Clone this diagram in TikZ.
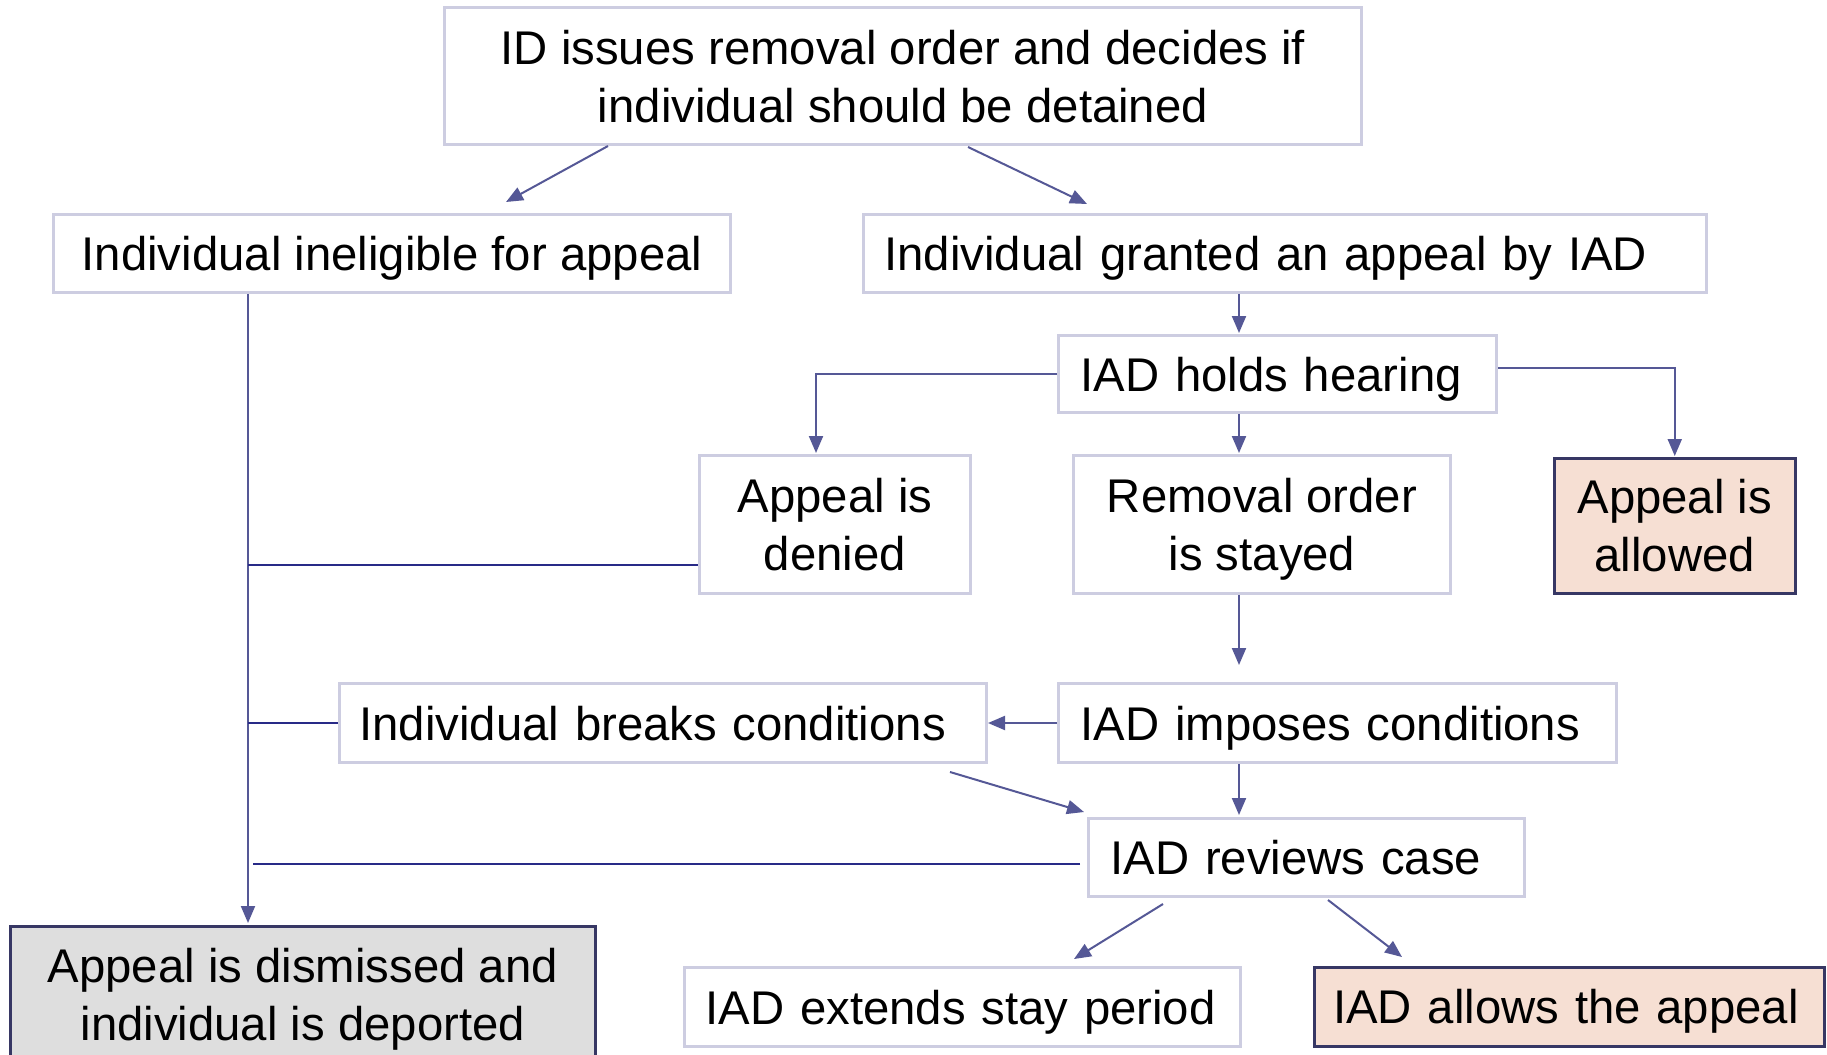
\documentclass[tikz,border=0pt]{standalone}
\usepackage{fontspec}
\setmainfont{Liberation Sans}
\usetikzlibrary{arrows.meta,calc}
\definecolor{boxline}{RGB}{205,205,225}
\definecolor{navy}{RGB}{55,55,100}
\definecolor{arrowc}{RGB}{85,88,150}
\definecolor{linec}{RGB}{40,42,135}
\definecolor{peach}{RGB}{246,223,211}
\definecolor{grayfill}{RGB}{222,222,222}
\newcommand\bigfont{\fontsize{47.3}{58}\selectfont}
\newcommand\mystrut{\rule[-9pt]{0pt}{52pt}}
\begin{document}
\begin{tikzpicture}[x=1pt,y=-1pt,
  box/.style={draw=boxline,line width=3pt,fill=white,anchor=north west,inner sep=0pt,font=\bigfont},
  cbox/.style={box,draw=navy,line width=2.5pt},
  one/.style={text height=43pt,text depth=9pt},
  arr/.style={draw=arrowc,line width=2pt,-{Triangle[length=17pt,width=14pt]}},
  ln/.style={draw=linec,line width=2pt}]
\useasboundingbox[fill=white] (0,0) rectangle (1827,1054);

\node[box,minimum width=917,minimum height=137,align=center] (top) at (443,6) {\mystrut ID issues removal order and decides if\\individual should be detained\mystrut};
\node[box,one,minimum width=677,minimum height=78] (inel) at (52,213) {Individual ineligible for appeal};
\node[box,one,text width=801,inner xsep=21,minimum height=78,align=left] (grant) at (862,213) {\mbox{Individual granted an appeal by IAD}};
\node[box,one,text width=394,inner xsep=22,minimum height=77,align=left] (hear) at (1057,334) {\mbox{IAD holds hearing}};
\node[box,minimum width=271,minimum height=138,align=center] (deny) at (698,454) {\mystrut Appeal is\\denied\mystrut};
\node[box,minimum width=377,minimum height=138,align=center] (stay) at (1072,454) {\mystrut Removal order\\is stayed\mystrut};
\node[cbox,fill=peach,minimum width=241,minimum height=135,align=center] (allow) at (1553,457) {\mystrut Appeal is\\allowed\mystrut};
\node[box,one,text width=607,inner xsep=20,minimum height=79,align=left] (brk) at (338,682) {\mbox{Individual breaks conditions}};
\node[box,one,text width=514,inner xsep=22,minimum height=79,align=left] (impose) at (1057,682) {\mbox{IAD imposes conditions}};
\node[box,one,text width=392,inner xsep=22,minimum height=78,align=left] (review) at (1087,817) {\mbox{IAD reviews case}};
\node[cbox,fill=grayfill,minimum width=585,minimum height=138,align=center] (dism) at (9,925) {\mystrut Appeal is dismissed and\\individual is deported\mystrut};
\node[box,one,text width=514,inner xsep=21,minimum height=79,align=left] (extend) at (683,966) {\mbox{IAD extends stay period}};
\node[cbox,fill=peach,one,text width=472,inner xsep=19,minimum height=79,align=left] (allows) at (1313,966) {\mbox{IAD allows the appeal}};

% connectors
\draw[arr] ($(top.south west)+(165,0)$) -- ($(inel.north west)+(454,-11)$);
\draw[arr] ($(top.south west)+(525,1)$) -- ($(grant.north west)+(225,-9)$);
\draw[arr] ($(grant.south west)+(377,0)$) -- ($(hear.north west)+(182,-1)$);
\draw[arr] ($(hear.south west)+(182,0)$) -- ($(stay.north west)+(167,-1)$);
\draw[arr] ($(stay.south west)+(167,0)$) -- ($(impose.north west)+(182,-17)$);
\draw[arr] ($(impose.south west)+(182,0)$) -- ($(review.north west)+(152,-2)$);
\draw[arr] (hear.west) -| ($(deny.north west)+(118,-1)$);
\draw[arr] ($(hear.east)+(0,-6)$) -| ($(allow.north)+(0,-1)$);
\draw[arr] (impose.west) -- (brk.east);
\draw[arr] ($(brk.south east)+(-38,8)$) -- ($(review.north west)+(-3,-5)$);
\draw[arr] ($(review.south west)+(76,6)$) -- ($(extend.north west)+(391,-7)$);
\draw[arr] ($(review.south west)+(241,2)$) -- ($(allows.north west)+(89,-9)$);

\coordinate (trunk) at ($(inel.south west)+(196,0)$);
\draw[arr] (trunk) -- ($(dism.north west)+(239,-2)$);
\coordinate (dl) at ($(deny.south west)+(0,-30)$);
\draw[ln] (dl) -- (dl -| trunk);
\draw[ln] (brk.west) -- (brk.west -| trunk);
\coordinate (rl) at ($(review.west)+(-7,6)$);
\draw[ln] (rl) -- ($(rl -| trunk)+(5,0)$);
\end{tikzpicture}
\end{document}
